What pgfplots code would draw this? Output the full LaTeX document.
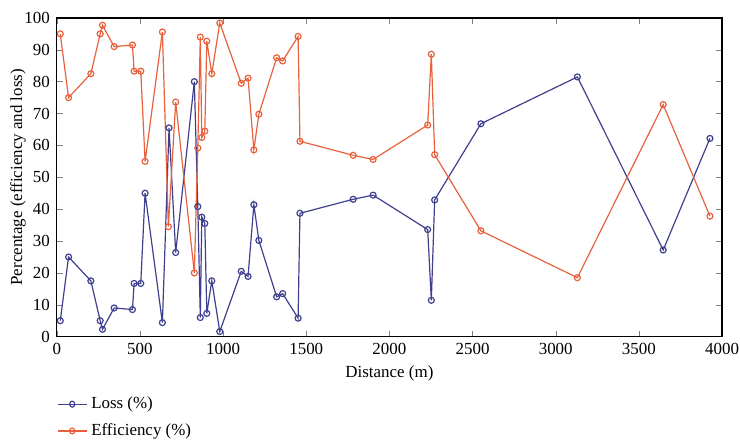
\documentclass[border=0pt]{standalone}
\usepackage{pgfplots}
\pgfplotsset{compat=1.18}
\usepackage{fontspec}
\setmainfont{Liberation Serif}
\definecolor{lossblue}{HTML}{3F3F8F}
\definecolor{efforange}{HTML}{E8603C}
\begin{document}
\begin{tikzpicture}
\begin{axis}[
    scale only axis,
    width=334pt, height=160pt,
    xmin=0, xmax=4000, ymin=0, ymax=100,
    xtick={0,500,...,4000}, ytick={0,10,...,100},
    tick align=inside,
    major tick length=3pt,
    font=\fontsize{8.5}{10}\selectfont,
    /pgf/number format/assume math mode=true,
    /pgf/number format/1000 sep={},
    scaled x ticks=false,
    xlabel={Distance (m)},
    ylabel={Percentage (efficiency and loss)},
    xlabel style={at={([yshift=-18.5pt]rel axis cs:0.5,0)}, anchor=center},
    ylabel style={at={([xshift=-19.5pt]rel axis cs:0,0.5)}, anchor=center},
    axis line style={line width=0.6pt},
    legend style={draw=none, fill=none, at={(0,-0.175)}, anchor=north west,
        font=\fontsize{8.5}{10}\selectfont, row sep=2pt, inner xsep=0pt, inner ysep=0pt,
        every even column/.style={column sep=3pt}},
    legend cell align=left,
    legend image post style={xscale=0.85},
]
\addplot[color=lossblue, line width=0.6pt, mark=o, mark size=1.5pt] coordinates {
(21,5) (71,25) (205,17.5) (261,5) (275,2.3) (345,9) (455,8.5) (465,16.7)
(505,16.7) (531,45) (635,4.4) (675,65.5) (715,26.4) (827,80) (848,40.8)
(863,6) (872,37.5) (890,35.5) (902,7.3) (932,17.5) (980,1.6) (1109,20.5)
(1150,18.9) (1185,41.4) (1215,30.2) (1322,12.5) (1358,13.5) (1451,5.8)
(1462,38.7) (1782,43.1) (1902,44.4) (2230,33.6) (2252,11.4) (2272,42.9)
(2550,66.8) (3130,81.5) (3646,27.2) (3927,62.2)
};
\addlegendentry{Loss (\%)}
\addplot[color=efforange, line width=0.6pt, mark=o, mark size=1.5pt] coordinates {
(21,95) (71,75) (205,82.5) (261,95) (275,97.7) (345,91) (455,91.5) (465,83.3)
(505,83.3) (531,55) (635,95.6) (671,34.5) (715,73.6) (827,20) (848,59.2)
(863,94) (872,62.5) (890,64.5) (902,92.7) (932,82.5) (980,98.4) (1109,79.5)
(1150,81.1) (1185,58.6) (1215,69.8) (1322,87.5) (1358,86.5) (1451,94.2)
(1462,61.3) (1782,56.9) (1902,55.6) (2230,66.4) (2252,88.6) (2272,57.1)
(2550,33.2) (3130,18.5) (3646,72.8) (3927,37.8)
};
\addlegendentry{Efficiency (\%)}
\coordinate (bl) at (rel axis cs:0,0);
\coordinate (tr) at (rel axis cs:1,1);
\end{axis}
\pgfresetboundingbox
\path ([shift={(-28.5pt,-51.5pt)}]bl) rectangle ([shift={(9pt,9pt)}]tr);
\end{tikzpicture}
\end{document}
